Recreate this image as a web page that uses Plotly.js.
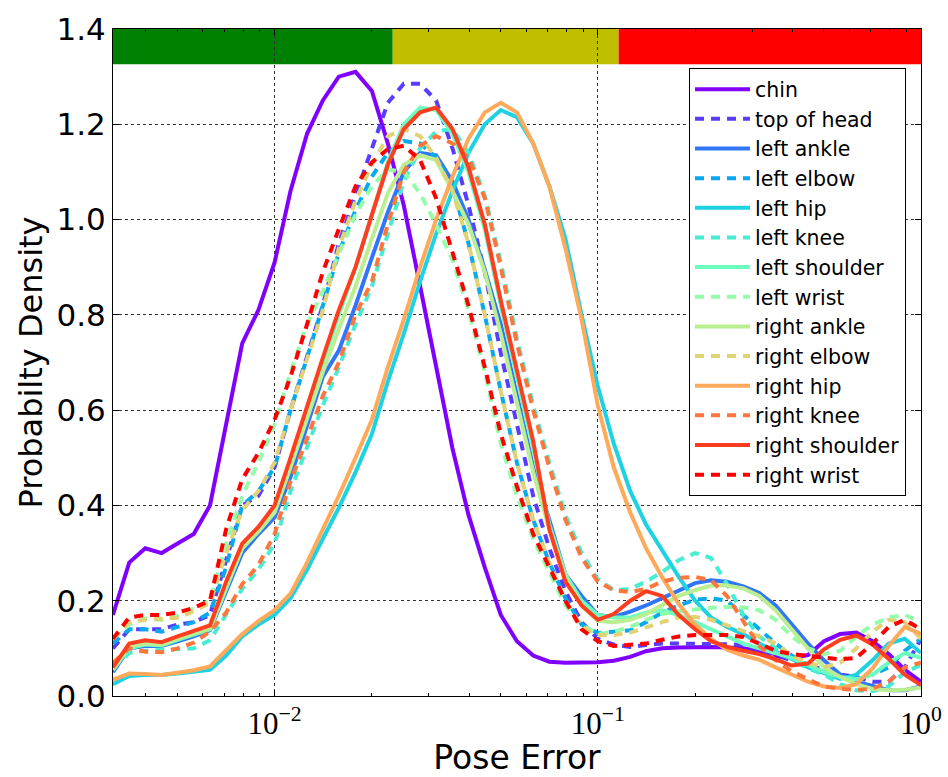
<!DOCTYPE html>
<html>
<head>
<meta charset="utf-8">
<script src="https://cdn.plot.ly/plotly-3.0.1.min.js"></script>
<style>html,body{margin:0;padding:0;background:#fff;}#chart{width:948px;height:777px;}</style>
</head>
<body>
<div id="chart"></div>
<script>
// Pose error sample positions (log-spaced grid)
const poseError = [0.00316,0.00355,0.00398,0.00447,0.00501,0.00562,0.00631,0.00708,0.00794,0.00891,
  0.0100,0.0112,0.0126,0.0141,0.0158,0.0178,0.0200,0.0224,0.0251,0.0282,
  0.0316,0.0355,0.0398,0.0447,0.0501,0.0562,0.0631,0.0708,0.0794,0.0891,
  0.100,0.112,0.126,0.141,0.158,0.178,0.200,0.224,0.251,0.282,
  0.316,0.355,0.398,0.447,0.501,0.562,0.631,0.708,0.794,0.891,1.000];

const seriesNames = ["chin","top of head","left ankle","left elbow","left hip","left knee","left shoulder",
  "left wrist","right ankle","right elbow","right hip","right knee","right shoulder","right wrist"];

const chin = [0.17,0.28,0.31,0.30,0.32,0.34,0.40,0.57,0.74,0.81,
  0.91,1.06,1.18,1.25,1.30,1.31,1.27,1.16,1.03,0.86,
  0.69,0.52,0.38,0.27,0.17,0.115,0.085,0.072,0.07,0.07,
  0.071,0.074,0.082,0.094,0.10,0.102,0.103,0.103,0.102,0.10,
  0.094,0.083,0.08,0.086,0.115,0.13,0.133,0.115,0.088,0.055,0.03];

const topOfHead = [0.10,0.14,0.14,0.14,0.15,0.155,0.17,0.285,0.40,0.42,
  0.48,0.60,0.71,0.82,0.95,1.05,1.15,1.245,1.285,1.285,
  1.25,1.15,1.03,0.89,0.72,0.57,0.42,0.31,0.22,0.155,
  0.12,0.108,0.103,0.107,0.11,0.11,0.11,0.11,0.11,0.108,
  0.097,0.085,0.075,0.065,0.055,0.045,0.04,0.03,0.03,0.06,0.12];

const leftAnkle = [0.05,0.10,0.105,0.105,0.115,0.125,0.138,0.22,0.30,0.34,
  0.375,0.46,0.57,0.67,0.725,0.82,0.92,1.015,1.10,1.14,
  1.135,1.08,1.00,0.895,0.78,0.63,0.48,0.37,0.255,0.21,
  0.17,0.166,0.177,0.19,0.205,0.22,0.237,0.243,0.24,0.23,
  0.216,0.19,0.15,0.11,0.075,0.045,0.03,0.02,0.012,0.012,0.02];

const leftElbow = [0.11,0.14,0.14,0.135,0.145,0.155,0.175,0.27,0.40,0.43,
  0.48,0.60,0.71,0.82,0.93,1.02,1.09,1.14,1.165,1.16,
  1.13,1.07,0.95,0.80,0.64,0.49,0.37,0.28,0.205,0.15,
  0.132,0.135,0.138,0.155,0.175,0.19,0.202,0.205,0.20,0.17,
  0.14,0.11,0.085,0.065,0.05,0.04,0.04,0.045,0.06,0.095,0.12];

const leftHip = [0.025,0.042,0.044,0.044,0.047,0.05,0.055,0.085,0.125,0.15,
  0.17,0.205,0.265,0.33,0.395,0.47,0.55,0.66,0.76,0.87,
  0.97,1.06,1.14,1.20,1.23,1.215,1.16,1.07,0.96,0.80,
  0.65,0.53,0.43,0.36,0.305,0.25,0.20,0.165,0.145,0.13,
  0.11,0.095,0.078,0.06,0.048,0.036,0.045,0.075,0.11,0.12,0.09];

const leftKnee = [0.06,0.09,0.095,0.097,0.097,0.10,0.117,0.17,0.225,0.265,
  0.32,0.43,0.52,0.61,0.69,0.78,0.86,0.97,1.08,1.15,
  1.185,1.19,1.14,1.05,0.91,0.75,0.61,0.49,0.38,0.30,
  0.245,0.222,0.225,0.24,0.26,0.285,0.30,0.29,0.235,0.17,
  0.125,0.10,0.077,0.058,0.045,0.025,0.012,0.01,0.02,0.05,0.065];

const leftShoulder = [0.055,0.10,0.108,0.106,0.118,0.13,0.14,0.225,0.31,0.35,
  0.39,0.49,0.60,0.70,0.80,0.90,1.01,1.12,1.20,1.235,
  1.23,1.18,1.10,0.98,0.82,0.67,0.52,0.36,0.255,0.20,
  0.17,0.165,0.165,0.175,0.18,0.17,0.155,0.14,0.125,0.11,
  0.10,0.09,0.08,0.065,0.05,0.04,0.035,0.045,0.07,0.09,0.08];

const leftWrist = [0.12,0.15,0.163,0.16,0.168,0.185,0.20,0.32,0.42,0.49,
  0.57,0.68,0.78,0.85,0.93,1.01,1.07,1.105,1.10,1.055,
  0.99,0.915,0.81,0.68,0.53,0.42,0.33,0.26,0.19,0.15,
  0.13,0.135,0.145,0.16,0.172,0.178,0.182,0.185,0.187,0.186,
  0.18,0.16,0.125,0.10,0.088,0.095,0.125,0.15,0.165,0.17,0.155];

const rightAnkle = [0.055,0.105,0.11,0.108,0.12,0.13,0.142,0.23,0.31,0.345,
  0.385,0.48,0.58,0.68,0.77,0.86,0.96,1.055,1.115,1.135,
  1.125,1.06,0.99,0.89,0.76,0.62,0.47,0.35,0.25,0.19,
  0.158,0.155,0.16,0.172,0.19,0.21,0.222,0.232,0.232,0.226,
  0.21,0.18,0.14,0.10,0.06,0.04,0.025,0.015,0.012,0.013,0.018];

const rightElbow = [0.12,0.155,0.16,0.163,0.164,0.178,0.195,0.30,0.39,0.43,
  0.49,0.60,0.71,0.81,0.94,1.04,1.115,1.175,1.19,1.175,
  1.13,1.06,0.95,0.80,0.64,0.49,0.37,0.28,0.20,0.145,
  0.128,0.128,0.133,0.145,0.155,0.165,0.166,0.16,0.148,0.137,
  0.125,0.11,0.085,0.07,0.06,0.07,0.10,0.135,0.16,0.155,0.12];

const rightHip = [0.034,0.047,0.046,0.044,0.049,0.054,0.062,0.095,0.13,0.157,
  0.18,0.215,0.28,0.35,0.42,0.50,0.58,0.69,0.79,0.90,
  1.00,1.09,1.17,1.225,1.245,1.225,1.16,1.07,0.94,0.79,
  0.61,0.48,0.385,0.31,0.25,0.193,0.15,0.12,0.097,0.085,
  0.076,0.06,0.045,0.03,0.02,0.017,0.025,0.058,0.105,0.145,0.13];

const rightKnee = [0.07,0.10,0.093,0.092,0.10,0.112,0.135,0.175,0.235,0.275,
  0.34,0.45,0.54,0.63,0.70,0.80,0.87,0.99,1.10,1.155,
  1.175,1.16,1.13,1.045,0.90,0.74,0.60,0.48,0.37,0.29,
  0.24,0.222,0.218,0.225,0.24,0.248,0.25,0.243,0.21,0.155,
  0.105,0.075,0.052,0.035,0.02,0.015,0.013,0.015,0.03,0.06,0.07];

const rightShoulder = [0.06,0.11,0.117,0.113,0.125,0.136,0.148,0.24,0.32,0.355,
  0.40,0.50,0.61,0.71,0.81,0.90,1.01,1.115,1.19,1.225,
  1.235,1.19,1.11,0.99,0.83,0.68,0.535,0.35,0.24,0.19,
  0.16,0.172,0.20,0.22,0.21,0.17,0.14,0.115,0.103,0.095,
  0.088,0.077,0.064,0.068,0.098,0.118,0.127,0.108,0.078,0.045,0.023];

const rightWrist = [0.12,0.165,0.17,0.17,0.175,0.185,0.20,0.35,0.455,0.51,
  0.58,0.67,0.78,0.89,0.98,1.07,1.12,1.148,1.155,1.125,
  1.045,0.93,0.82,0.69,0.55,0.44,0.34,0.27,0.20,0.14,
  0.115,0.105,0.107,0.11,0.118,0.125,0.128,0.128,0.128,0.124,
  0.11,0.095,0.088,0.085,0.08,0.077,0.08,0.11,0.145,0.16,0.14];

const seriesValues = [chin, topOfHead, leftAnkle, leftElbow, leftHip, leftKnee, leftShoulder,
  leftWrist, rightAnkle, rightElbow, rightHip, rightKnee, rightShoulder, rightWrist];

// matplotlib "rainbow" colormap sampled at 14 points
const seriesColors = ["#8000ff","#583dfd","#3176f8","#0aa9ee","#1dd2e2","#45eed2","#6cfdbf",
  "#93fda9","#baee91","#e2d276","#ffa95a","#ff763d","#ff3d1f","#ff0000"];

// Accuracy band at the top of the plot
const bandEdges = [0.00316, 0.0232, 0.116, 1.0];
const bandColors = ["#008000", "#bfbf00", "#ff0000"];
const bandRange = [1.326, 1.4];

const yTicks = [0, 0.2, 0.4, 0.6, 0.8, 1.0, 1.2, 1.4];
const xTicks = [0.01, 0.1, 1];
const xTickText = ["10<sup>\u22122</sup>", "10<sup>\u22121</sup>", "10<sup>0</sup>"];
const xMinor = [0.004,0.005,0.006,0.007,0.008,0.009,0.02,0.03,0.04,0.05,0.06,0.07,0.08,0.09,
  0.2,0.3,0.4,0.5,0.6,0.7,0.8,0.9];

const traces = seriesNames.map((name, i) => ({
  type: "scatter",
  mode: "lines",
  name: name,
  x: poseError,
  y: seriesValues[i],
  legendgroup: "g" + i,
  line: {color: seriesColors[i], width: 4, dash: (i % 2 === 1) ? "9px,7px" : "solid"},
  hoverinfo: "skip"
}));

const shapes = bandColors.map((c, i) => ({
  type: "rect", layer: "below", xref: "x", yref: "y",
  x0: bandEdges[i], x1: bandEdges[i + 1], y0: bandRange[0], y1: bandRange[1],
  fillcolor: c, line: {width: 0}
}));

const layout = {
  width: 948, height: 777,
  margin: {l: 113, r: 27, t: 29, b: 81, pad: 0},
  paper_bgcolor: "#ffffff", plot_bgcolor: "#ffffff",
  showlegend: true,
  shapes: shapes,
  xaxis: {
    type: "log", range: [-2.5, 0],
    tickmode: "array", tickvals: xTicks, ticktext: xTickText,
    ticks: "inside", ticklen: 6, tickcolor: "#000", ticklabelstandoff: 0,
    showline: true, linecolor: "#000", linewidth: 1, mirror: "ticks",
    showgrid: true, gridcolor: "#333", gridwidth: 1, griddash: "dot",
    zeroline: false,
    tickfont: {family: "Liberation Serif, DejaVu Serif, serif", size: 31, color: "#000"},
    minor: {tickmode: "array", tickvals: xMinor, ticks: "inside", ticklen: 3, tickcolor: "#000", showgrid: false},
    title: {text: "Pose Error", font: {family: "DejaVu Sans", size: 33, color: "#000"}}
  },
  yaxis: {
    range: [0, 1.4],
    tickmode: "array", tickvals: yTicks, tickformat: ".1f",
    ticks: "inside", ticklen: 6, tickcolor: "#000",
    showline: true, linecolor: "#000", linewidth: 1, mirror: "ticks",
    showgrid: true, gridcolor: "#333", gridwidth: 1, griddash: "dot",
    zeroline: false, automargin: true,
    tickfont: {family: "DejaVu Sans", size: 31, color: "#000"},
    title: {text: "Probabilty Density", font: {family: "DejaVu Sans", size: 32, color: "#000"}, standoff: 4}
  },
  legend: {
    x: 0.7129, y: 0.941, xanchor: "left", yanchor: "top",
    bgcolor: "#ffffff", bordercolor: "#000", borderwidth: 1,
    font: {family: "DejaVu Sans", size: 20.5, color: "#000"},
    itemwidth: 55, tracegroupgap: 3, traceorder: "normal"
  }
};

Plotly.newPlot("chart", traces, layout, {displayModeBar: false, staticPlot: true});
</script>
</body>
</html>
